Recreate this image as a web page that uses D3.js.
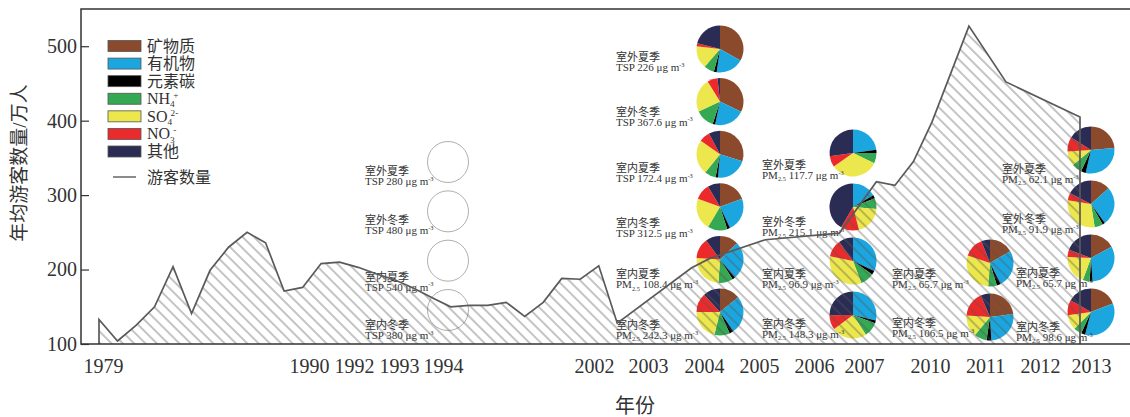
<!DOCTYPE html>
<html>
<head>
<meta charset="utf-8">
<script src="https://cdn.jsdelivr.net/npm/d3@7"></script>
<style>
  body { margin: 0; background: #fff; }
  svg { display: block; }
</style>
</head>
<body>
<svg id="chart" width="1130" height="417"></svg>
<script>
// ---------- data ----------
// visitor series: position along the time sequence and annual visitors (万人)
const visitorSeq = [0,1,2,3,4,5,6,7,8,9,10,11,12,13,14,15,16,17,18,19,20,21,22,23,24,25,26,27,28,32,33,36,40,42,43,44,45,47,49,53];
const visitorVal = [133,104,125,150,204,141,199,230,250,236,171,176,208,210,203,194,186,175,162,150,152,152,156,137,156,188,187,205,128,202,215,240,249,318,313,345,398,527,452,405];

const yTicks = [100, 200, 300, 400, 500];
const yearTicks = ['1979','1990','1992','1993','1994','2002','2003','2004','2005','2006','2007','2010','2011','2012','2013'];

// aerosol components (pie slices, clockwise from 12 o'clock)
const components = ['矿物质','有机物','元素碳','NH4+','SO42-','NO3-','其他'];
const componentColors = ['#8a4a2b','#1ba6df','#000000','#35a853','#ebe74c','#ec2a2b','#2b2c54'];

// sampling campaigns
const sampleColumn = ['1994','1994','1994','1994',
  '2004','2004','2004','2004','2004','2004',
  '2007','2007','2007','2007',
  '2011','2011',
  '2013','2013','2013','2013'];
const sampleSeason = ['室外夏季','室外冬季','室内夏季','室内冬季',
  '室外夏季','室外冬季','室内夏季','室内冬季','室内夏季','室内冬季',
  '室外夏季','室外冬季','室内夏季','室内冬季',
  '室内夏季','室内冬季',
  '室外夏季','室外冬季','室内夏季','室内冬季'];
const sampleMetric = ['TSP','TSP','TSP','TSP',
  'TSP','TSP','TSP','TSP','PM2.5','PM2.5',
  'PM2.5','PM2.5','PM2.5','PM2.5',
  'PM2.5','PM2.5',
  'PM2.5','PM2.5','PM2.5','PM2.5'];
const sampleConc = ['280','480','540','380',
  '226','367.6','172.4','312.5','108.4','242.3',
  '117.7','215.1','96.9','148.3',
  '65.7','106.5',
  '62.1','91.9','65.7','98.6'];
// mass fractions (%) in component order; null = composition not reported
const sampleComp = [null, null, null, null,
  [33, 19, 2, 7, 15.5, 2, 21],
  [32, 21, 1.7, 13, 23, 7, 1.7],
  [30, 21.5, 1.7, 7.8, 24, 7.5, 7.8],
  [19.5, 23.5, 2, 13.5, 22, 11, 8.5],
  [13, 26, 2, 10, 25, 14, 10],
  [14, 26, 2.8, 10.5, 21, 13, 11.7],
  [0, 22.8, 2.2, 7, 33, 7.5, 27.2],
  [0, 16.7, 2.2, 7.5, 19.5, 12.5, 41.6],
  [0, 32, 2.8, 9.4, 34, 11.7, 10],
  [0, 28.6, 2, 10, 24, 10, 25],
  [16.7, 26, 2.8, 6, 29, 14, 6],
  [23, 26, 3.3, 8.6, 15, 17.5, 6.4],
  [23.6, 30, 3.3, 7, 10, 10, 16],
  [13.4, 26.6, 1.7, 5.8, 30, 5, 17.5],
  [17, 32, 2, 4.7, 20, 5, 19.4],
  [19, 35, 2.8, 5.6, 10.3, 10.5, 16.7]];

// ---------- layout ----------
const plot = { left: 81, right: 1130, top: 9, bottom: 344 };
const serif = "'Liberation Serif','Noto Sans CJK SC',serif";
const ink = '#333';

const svg = d3.select('#chart');
const defs = svg.append('defs');

const y = d3.scaleLinear().domain([100, 550]).range([plot.bottom, plot.top]);
const x = d3.scaleLinear().domain([0, 53]).range([99, 1080]);
const xTick = d3.scaleOrdinal().domain(yearTicks)
  .range([103, 309, 354, 399, 443, 594, 648, 704, 759, 814, 864, 930, 985, 1040, 1091]);

// pie columns and rows
const columns = ['1994', '2004', '2007', '2011', '2013'];
const colX = d3.scaleOrdinal().domain(columns).range([448, 720, 853, 990, 1091]);
const colLabelX = d3.scaleOrdinal().domain(columns).range([365, 616, 762, 892, 1002]);
const colRows = { '1994': [162, 310], '2004': [49, 312], '2007': [153, 315], '2011': [263, 317], '2013': [150, 312] };
const pieR = 23.5;
// vertical drop of each caption below its pie centre
const labelDrop = [13, 13, 20, 19, 12, 14, 18, 20, 19, 17, 16, 19, 17, 13, 15, 10, 23, 19, 19, 19];

// helper: text with sub/superscript segments
function rich(sel, segs, size) {
  let shift = 0;
  segs.forEach(s => {
    const small = s.sub || s.sup;
    const target = s.sub ? size * 0.2 : s.sup ? -size * 0.38 : 0;
    const t = sel.append('tspan').text(s.t)
      .attr('dy', target - shift)
      .attr('font-size', small ? size * 0.58 : size);
    if (s.dx) t.attr('dx', s.dx);
    shift = target;
  });
}
function componentSegs(name) {
  if (name === 'NH4+') return [{ t: 'NH' }, { t: '4', sub: true }, { t: '+', sup: true, dx: -1.5 }];
  if (name === 'SO42-') return [{ t: 'SO' }, { t: '4', sub: true }, { t: '2-', sup: true, dx: -1.5 }];
  if (name === 'NO3-') return [{ t: 'NO' }, { t: '3', sub: true }, { t: '-', sup: true, dx: -1.5 }];
  return [{ t: name }];
}

// ---------- legend ----------
const legend = svg.append('g');
const legRow = d3.scalePoint().domain(components).range([46, 151.5]);
const legItems = legend.selectAll('g.item').data(components).join('g')
  .attr('transform', d => `translate(0,${legRow(d)})`);
legItems.append('rect')
  .attr('x', 108).attr('y', -5.5).attr('width', 33).attr('height', 11)
  .attr('fill', (d, i) => componentColors[i])
  .attr('stroke', '#555').attr('stroke-width', 0.8);
legItems.append('text')
  .attr('x', 147).attr('y', 5.5)
  .attr('font-family', serif).attr('font-size', 16).attr('fill', ink)
  .each(function (d) { rich(d3.select(this), componentSegs(d), 16); });
legend.append('line')
  .attr('x1', 113).attr('x2', 136).attr('y1', 177).attr('y2', 177)
  .attr('stroke', '#666').attr('stroke-width', 1.5);
legend.append('text')
  .attr('x', 147).attr('y', 182.5)
  .attr('font-family', serif).attr('font-size', 16).attr('fill', ink)
  .text('游客数量');

// ---------- pies ----------
const samples = sampleColumn.map((c, i) => ({
  col: c, season: sampleSeason[i], metric: sampleMetric[i], conc: sampleConc[i], comp: sampleComp[i],
  row: sampleColumn.slice(0, i).filter(v => v === c).length, drop: labelDrop[i]
}));
const rowScales = {};
columns.forEach(c => {
  const n = sampleColumn.filter(v => v === c).length;
  rowScales[c] = d3.scalePoint().domain(d3.range(n)).range(colRows[c]);
});

const pie = d3.pie().sort(null).value(d => d);
const arc = d3.arc().innerRadius(0).outerRadius(pieR);

const pieG = svg.append('g').selectAll('g.pie').data(samples).join('g')
  .attr('transform', d => `translate(${colX(d.col)},${rowScales[d.col](d.row)})`);

pieG.filter(d => !d.comp).append('circle')
  .attr('r', 20.5).attr('fill', 'none').attr('stroke', '#9a9a9a').attr('stroke-width', 0.8);

pieG.filter(d => d.comp).selectAll('path').data(d => pie(d.comp)).join('path')
  .attr('d', arc).attr('fill', (d, i) => componentColors[i]);

// sample captions
const labelG = svg.append('g').selectAll('g.lab').data(samples).join('g')
  .attr('transform', d => {
    const nudge = (d.col === '2013' && d.season.startsWith('室内')) ? 14 : 0;
    return `translate(${colLabelX(d.col) + nudge},${rowScales[d.col](d.row) + d.drop})`;
  });
labelG.append('text')
  .attr('y', 0).attr('font-family', serif).attr('font-size', 11).attr('fill', ink)
  .text(d => d.season);
labelG.append('text')
  .attr('y', 10).attr('font-family', serif).attr('font-size', 11).attr('fill', ink)
  .each(function (d) {
    const segs = d.metric === 'PM2.5'
      ? [{ t: 'PM' }, { t: '2.5', sub: true }, { t: ` ${d.conc} μg m` }, { t: '-3', sup: true }]
      : [{ t: `TSP ${d.conc} μg m` }, { t: '-3', sup: true }];
    rich(d3.select(this), segs, 11);
  });

// ---------- visitors: hatched area + outline ----------
const pts = visitorSeq.map((s, i) => [x(s), y(visitorVal[i])]);
const base = y(100);
const outline = [[pts[0][0], base], ...pts, [pts[pts.length - 1][0], base]];

const hatch = defs.append('pattern')
  .attr('id', 'hatch').attr('patternUnits', 'userSpaceOnUse')
  .attr('width', 8).attr('height', 8).attr('patternTransform', 'rotate(45)');
hatch.append('line')
  .attr('x1', 0).attr('y1', 4).attr('x2', 8).attr('y2', 4)
  .attr('stroke', '#555').attr('stroke-width', 0.7);

svg.append('path')
  .attr('d', d3.line()(outline) + 'Z')
  .attr('fill', 'url(#hatch)');
svg.append('path')
  .attr('d', d3.line()(outline))
  .attr('fill', 'none').attr('stroke', '#5a5a5a').attr('stroke-width', 1.7)
  .attr('stroke-linejoin', 'miter');

// ---------- axes and frame ----------
const yAxis = svg.append('g').attr('transform', `translate(${plot.left},0)`)
  .call(d3.axisLeft(y).tickValues(yTicks).tickSizeInner(-8).tickSizeOuter(0).tickPadding(4));
yAxis.select('.domain').remove();
yAxis.selectAll('line').attr('stroke', '#333').attr('stroke-width', 1.2);
yAxis.selectAll('text').attr('font-family', serif).attr('font-size', 20).attr('fill', ink);

const xAxis = svg.append('g').attr('transform', `translate(0,${plot.bottom})`)
  .call(d3.axisBottom(xTick).tickSize(0).tickPadding(15));
xAxis.select('.domain').remove();
xAxis.selectAll('text').attr('font-family', serif).attr('font-size', 20).attr('fill', ink);

svg.append('path')
  .attr('d', `M${plot.right},${plot.top}H${plot.left}V${plot.bottom}H${plot.right}`)
  .attr('fill', 'none').attr('stroke', '#333').attr('stroke-width', 1.5);

// axis titles
svg.append('text')
  .attr('transform', 'translate(26,163) rotate(-90)')
  .attr('text-anchor', 'middle')
  .attr('font-family', serif).attr('font-size', 19).attr('fill', ink)
  .text('年均游客数量/万人');
svg.append('text')
  .attr('x', 635).attr('y', 413).attr('text-anchor', 'middle')
  .attr('font-family', serif).attr('font-size', 20).attr('fill', ink)
  .text('年份');
</script>
</body>
</html>
